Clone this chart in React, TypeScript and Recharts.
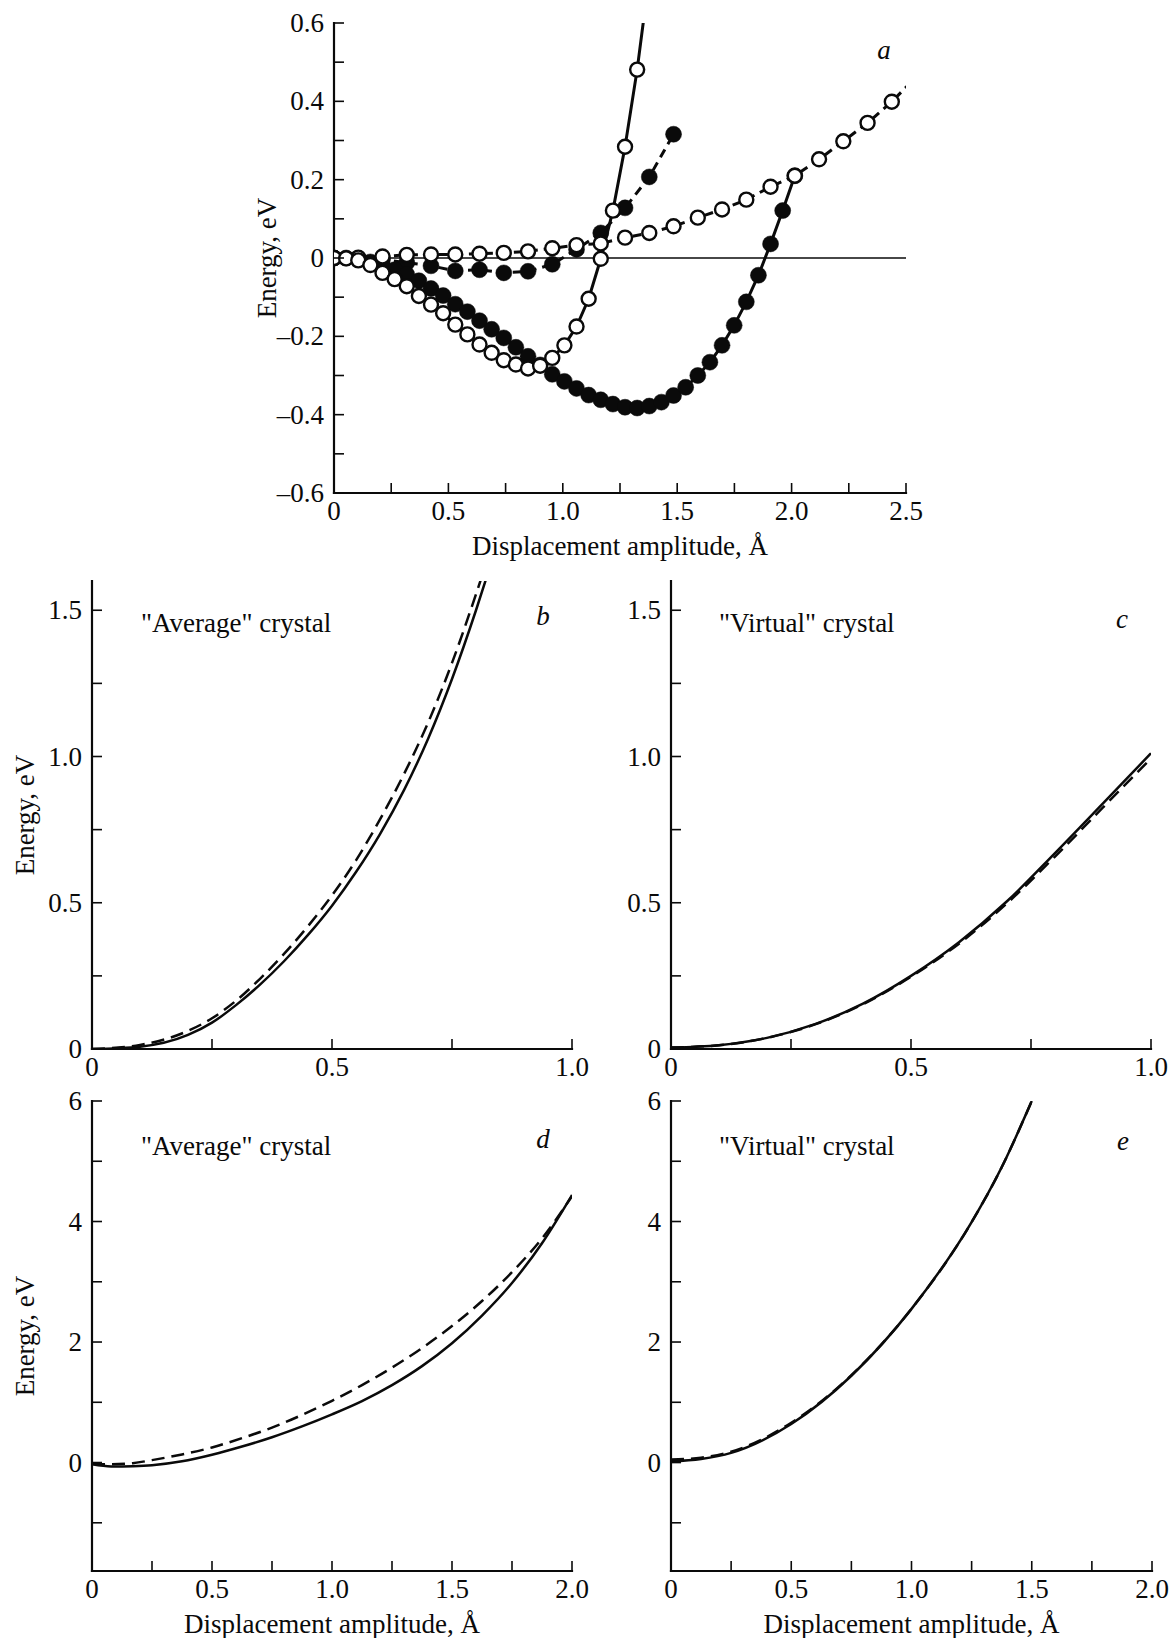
import React from "react";
import { LineChart, Line, XAxis, YAxis, ReferenceLine, Label } from "recharts";

// ---------------- DATA ----------------
// Panel a: fine-step points (open circles solid line, filled circles solid line)
const A_FINE_X = [0, 0.053, 0.106, 0.159, 0.212, 0.265, 0.318, 0.371, 0.424, 0.477, 0.53, 0.583, 0.636, 0.689, 0.742, 0.795, 0.848, 0.901, 0.954, 1.007, 1.06, 1.113, 1.166, 1.219, 1.272, 1.325, 1.378, 1.431, 1.484, 1.537, 1.59, 1.643, 1.696, 1.749, 1.802, 1.855, 1.908, 1.961, 2.014];
const A_OPEN_SOLID_Y = [0, -0.001, -0.006, -0.018, -0.038, -0.054, -0.072, -0.097, -0.119, -0.141, -0.17, -0.195, -0.221, -0.242, -0.261, -0.272, -0.282, -0.275, -0.255, -0.223, -0.175, -0.104, -0.002, 0.121, 0.284, 0.481, 0.72];
const A_FILLED_SOLID_Y = [0, 0, -0.002, -0.01, -0.02, -0.03, -0.042, -0.058, -0.078, -0.096, -0.118, -0.137, -0.16, -0.182, -0.204, -0.228, -0.251, -0.273, -0.297, -0.315, -0.333, -0.35, -0.362, -0.373, -0.381, -0.383, -0.378, -0.368, -0.351, -0.33, -0.3, -0.266, -0.223, -0.172, -0.112, -0.044, 0.036, 0.121, 0.21];
// Panel a: coarse-step points (dashed lines)
const A_COARSE_X = [0, 0.106, 0.212, 0.318, 0.424, 0.53, 0.636, 0.742, 0.848, 0.954, 1.06, 1.166, 1.272, 1.378, 1.484, 1.59, 1.696, 1.802, 1.908, 2.014, 2.12, 2.226, 2.332, 2.438, 2.544];
const A_OPEN_DASHED_Y = [0, 0.001, 0.004, 0.008, 0.009, 0.009, 0.011, 0.013, 0.017, 0.025, 0.033, 0.037, 0.052, 0.064, 0.081, 0.103, 0.124, 0.149, 0.182, 0.21, 0.252, 0.298, 0.345, 0.399, 0.462];
const A_FILLED_DASHED_Y = [0, -0.001, -0.004, -0.012, -0.02, -0.033, -0.03, -0.038, -0.034, -0.016, 0.022, 0.064, 0.128, 0.207, 0.316];

// Panel b ("Average" crystal, small range)
const B_X = [0, 0.1, 0.2, 0.25, 0.3, 0.35, 0.4, 0.45, 0.5, 0.55, 0.6, 0.65, 0.7, 0.75, 0.8, 0.83];
const B_SOLID = [0, 0.008, 0.048, 0.09, 0.15, 0.22, 0.3, 0.39, 0.49, 0.605, 0.735, 0.885, 1.06, 1.265, 1.5, 1.653];
const B_DASHED = [0, 0.014, 0.062, 0.105, 0.165, 0.24, 0.325, 0.42, 0.525, 0.645, 0.785, 0.94, 1.115, 1.32, 1.555, 1.705];

// Panel c ("Virtual" crystal, small range)
const C_X = [0, 0.1, 0.2, 0.3, 0.4, 0.5, 0.6, 0.7, 0.8, 0.9, 1.0];
const C_SOLID = [0.005, 0.013, 0.038, 0.085, 0.155, 0.25, 0.365, 0.505, 0.67, 0.84, 1.011];
const C_DASHED = [0.005, 0.013, 0.038, 0.084, 0.153, 0.247, 0.36, 0.498, 0.658, 0.826, 0.993];

// Panel d ("Average" crystal, large range)
const D_X = [0, 0.08, 0.17, 0.25, 0.375, 0.5, 0.625, 0.75, 0.875, 1.0, 1.125, 1.25, 1.375, 1.5, 1.625, 1.75, 1.875, 2.0];
const D_SOLID = [-0.03, -0.065, -0.06, -0.045, 0.02, 0.13, 0.265, 0.42, 0.6, 0.8, 1.02, 1.285, 1.6, 1.98, 2.44, 2.98, 3.64, 4.44];
const D_DASHED = [-0.02, -0.03, -0.01, 0.04, 0.135, 0.25, 0.405, 0.58, 0.79, 1.025, 1.285, 1.575, 1.9, 2.265, 2.68, 3.16, 3.72, 4.42];

// Panel e ("Virtual" crystal, large range)
const E_X = [0, 0.125, 0.25, 0.5, 0.75, 1.0, 1.25, 1.375, 1.5];
const E_SOLID = [0.02, 0.06, 0.16, 0.64, 1.44, 2.55, 3.99, 4.9, 6.0];
const E_DASHED = [0.05, 0.08, 0.18, 0.66, 1.45, 2.55, 3.99, 4.9, 6.0];

// Ticks and tick labels
const A_X_TICKS = [0, 0.25, 0.5, 0.75, 1, 1.25, 1.5, 1.75, 2, 2.25, 2.5];
const A_X_LAB_VALS = [0, 0.5, 1, 1.5, 2, 2.5];
const A_X_LABS = ["0", "0.5", "1.0", "1.5", "2.0", "2.5"];
const A_Y_TICKS = [-0.6, -0.5, -0.4, -0.3, -0.2, -0.1, 0, 0.1, 0.2, 0.3, 0.4, 0.5, 0.6];
const A_Y_LAB_VALS = [-0.6, -0.4, -0.2, 0, 0.2, 0.4, 0.6];
const A_Y_LABS = ["\u20130.6", "\u20130.4", "\u20130.2", "0", "0.2", "0.4", "0.6"];

const BC_X_TICKS = [0, 0.25, 0.5, 0.75, 1];
const BC_X_LAB_VALS = [0, 0.5, 1];
const BC_X_LABS = ["0", "0.5", "1.0"];
const BC_Y_TICKS = [0, 0.25, 0.5, 0.75, 1, 1.25, 1.5];
const BC_Y_LAB_VALS = [0, 0.5, 1, 1.5];
const BC_Y_LABS = ["0", "0.5", "1.0", "1.5"];

const DE_X_TICKS = [0, 0.25, 0.5, 0.75, 1, 1.25, 1.5, 1.75, 2];
const DE_X_LAB_VALS = [0, 0.5, 1, 1.5, 2];
const DE_X_LABS = ["0", "0.5", "1.0", "1.5", "2.0"];
const DE_Y_TICKS = [-1, 0, 1, 2, 3, 4, 5, 6];
const DE_Y_LAB_VALS = [0, 2, 4, 6];
const DE_Y_LABS = ["0", "2", "4", "6"];

const X_TITLE = "Displacement amplitude, \u00C5";
const Y_TITLE = "Energy, eV";

// ---------------- STYLE ----------------
const FONT = '"Liberation Serif", "Times New Roman", Times, serif';
const INK = "#0a0a0a";
const TICK_LEN = 10;
const TICK_FS = 27;
const TITLE_FS = 27;

const zip = (xs: number[], ys: number[]) => ys.map((y, i) => ({ x: xs[i], y }));

const findLabel = (v: number, vals: number[], labs: string[]) => {
  const i = vals.findIndex((t) => Math.abs(t - v) < 1e-6);
  return i >= 0 ? labs[i] : null;
};

const bottomTick = (vals: number[], labs: string[], dy: number) => (p: any) => {
  const { x, y, payload } = p;
  const lab = findLabel(payload.value, vals, labs);
  return (
    <g>
      <line x1={x} x2={x} y1={y} y2={y - TICK_LEN} stroke={INK} strokeWidth={1.6} />
      {lab !== null && (
        <text x={x} y={y + dy} textAnchor="middle" dominantBaseline="central" fontFamily={FONT} fontSize={TICK_FS} fill={INK}>
          {lab}
        </text>
      )}
    </g>
  );
};

const leftTick = (vals: number[], labs: string[], dx: number) => (p: any) => {
  const { x, y, payload } = p;
  const lab = findLabel(payload.value, vals, labs);
  return (
    <g>
      <line x1={x} x2={x + TICK_LEN} y1={y} y2={y} stroke={INK} strokeWidth={1.6} />
      {lab !== null && (
        <text x={x - dx} y={y} textAnchor="end" dominantBaseline="central" fontFamily={FONT} fontSize={TICK_FS} fill={INK}>
          {lab}
        </text>
      )}
    </g>
  );
};

const topTick = (p: any) => (
  <line x1={p.x} x2={p.x} y1={p.y} y2={p.y + TICK_LEN} stroke={INK} strokeWidth={1.6} />
);
const rightTick = (p: any) => (
  <line x1={p.x} x2={p.x - TICK_LEN} y1={p.y} y2={p.y} stroke={INK} strokeWidth={1.6} />
);

const xTitleContent = (dy: number) => (p: any) => {
  const vb = p.viewBox || {};
  return (
    <text x={vb.x + vb.width / 2} y={vb.y + dy} textAnchor="middle" dominantBaseline="central" fontFamily={FONT} fontSize={TITLE_FS} fill={INK}>
      {X_TITLE}
    </text>
  );
};

const yTitleContent = (dx: number) => (p: any) => {
  const vb = p.viewBox || {};
  const cx = vb.x + vb.width - dx;
  const cy = vb.y + vb.height / 2;
  return (
    <text x={cx} y={cy} transform={`rotate(-90 ${cx} ${cy})`} textAnchor="middle" dominantBaseline="central" fontFamily={FONT} fontSize={TITLE_FS} fill={INK}>
      {Y_TITLE}
    </text>
  );
};

type SeriesDef = {
  key: string;
  data: { x: number; y: number }[];
  width: number;
  dash?: string;
  marker?: "open" | "filled";
  curve: "linear" | "monotone";
};

type PanelProps = {
  left: number;
  top: number;
  width: number;
  height: number;
  margin: { top: number; right: number; bottom: number; left: number };
  yW: number;
  xH: number;
  xDomain: [number, number];
  yDomain: [number, number];
  xTicks: number[];
  yTicks: number[];
  xLabVals: number[];
  xLabs: string[];
  yLabVals: number[];
  yLabs: string[];
  series: SeriesDef[];
  showXTitle: boolean;
  showYTitle: boolean;
  zeroLine?: boolean;
};

const frame = { stroke: INK, strokeWidth: 2.2, strokeLinecap: "square" as const };

function Panel(pp: PanelProps) {
  return (
    <div style={{ position: "absolute", left: pp.left, top: pp.top }}>
      <LineChart width={pp.width} height={pp.height} margin={pp.margin}>
        <XAxis
          xAxisId="b"
          type="number"
          dataKey="x"
          domain={pp.xDomain}
          ticks={pp.xTicks}
          interval={0}
          allowDataOverflow
          tickLine={false}
          tickSize={0}
          tickMargin={0}
          height={pp.xH}
          axisLine={frame}
          tick={bottomTick(pp.xLabVals, pp.xLabs, 18)}
        >
          {pp.showXTitle && <Label content={xTitleContent(53)} />}
        </XAxis>
        <XAxis
          xAxisId="t"
          orientation="top"
          type="number"
          dataKey="x"
          domain={pp.xDomain}
          ticks={pp.xTicks}
          interval={0}
          allowDataOverflow
          tickLine={false}
          tickSize={0}
          tickMargin={0}
          height={0}
          axisLine={frame}
          tick={topTick}
        />
        <YAxis
          yAxisId="l"
          type="number"
          domain={pp.yDomain}
          ticks={pp.yTicks}
          interval={0}
          allowDataOverflow
          tickLine={false}
          tickSize={0}
          tickMargin={0}
          width={pp.yW}
          axisLine={frame}
          tick={leftTick(pp.yLabVals, pp.yLabs, 10)}
        >
          {pp.showYTitle && <Label content={yTitleContent(67)} />}
        </YAxis>
        <YAxis
          yAxisId="r"
          orientation="right"
          type="number"
          domain={pp.yDomain}
          ticks={pp.yTicks}
          interval={0}
          allowDataOverflow
          tickLine={false}
          tickSize={0}
          tickMargin={0}
          width={0}
          axisLine={frame}
          tick={rightTick}
        />
        {pp.zeroLine && <ReferenceLine xAxisId="b" yAxisId="l" y={0} stroke={INK} strokeWidth={1.4} />}
        {pp.series.map((s) => (
          <Line
            key={s.key}
            xAxisId="b"
            yAxisId="l"
            data={s.data}
            dataKey="y"
            type={s.curve}
            stroke={INK}
            strokeWidth={s.width}
            strokeDasharray={s.dash}
            isAnimationActive={false}
            activeDot={false}
            dot={
              s.marker === "open"
                ? { r: 7, fill: "#fff", stroke: INK, strokeWidth: 2.4, strokeDasharray: "none" }
                : s.marker === "filled"
                ? { r: 8, fill: INK, stroke: INK, strokeWidth: 0.5, strokeDasharray: "none" }
                : false
            }
          />
        ))}
      </LineChart>
    </div>
  );
}

const A_SERIES: SeriesDef[] = [
  { key: "filledDashed", data: zip(A_COARSE_X, A_FILLED_DASHED_Y), width: 3, dash: "9 6", marker: "filled", curve: "linear" },
  { key: "filledSolid", data: zip(A_FINE_X, A_FILLED_SOLID_Y), width: 3, marker: "filled", curve: "linear" },
  { key: "openDashed", data: zip(A_COARSE_X, A_OPEN_DASHED_Y), width: 3, dash: "9 6", marker: "open", curve: "linear" },
  { key: "openSolid", data: zip(A_FINE_X, A_OPEN_SOLID_Y), width: 3, marker: "open", curve: "linear" },
];

const curvePair = (xs: number[], solid: number[], dashed: number[]): SeriesDef[] => [
  { key: "dashed", data: zip(xs, dashed), width: 2.5, dash: "13 7", curve: "monotone" },
  { key: "solid", data: zip(xs, solid), width: 2.5, curve: "monotone" },
];

const textStyle = { fontFamily: FONT, fontSize: 27, fill: INK } as const;

export default function App() {
  return (
    <div style={{ position: "absolute", left: 0, top: 0, width: 1171, height: 1638, background: "#fff", overflow: "hidden" }}>
      <Panel
        left={240} top={0} width={704} height={563}
        margin={{ top: 23, right: 38, bottom: 0, left: 0 }}
        yW={94} xH={70}
        xDomain={[0, 2.5]} yDomain={[-0.6, 0.6]}
        xTicks={A_X_TICKS} yTicks={A_Y_TICKS}
        xLabVals={A_X_LAB_VALS} xLabs={A_X_LABS}
        yLabVals={A_Y_LAB_VALS} yLabs={A_Y_LABS}
        series={A_SERIES} showXTitle showYTitle zeroLine
      />
      <Panel
        left={0} top={566} width={600} height={523}
        margin={{ top: 15, right: 28, bottom: 0, left: 0 }}
        yW={92} xH={40}
        xDomain={[0, 1]} yDomain={[0, 1.6]}
        xTicks={BC_X_TICKS} yTicks={BC_Y_TICKS}
        xLabVals={BC_X_LAB_VALS} xLabs={BC_X_LABS}
        yLabVals={BC_Y_LAB_VALS} yLabs={BC_Y_LABS}
        series={curvePair(B_X, B_SOLID, B_DASHED)} showXTitle={false} showYTitle
      />
      <Panel
        left={579} top={566} width={592} height={523}
        margin={{ top: 15, right: 20, bottom: 0, left: 0 }}
        yW={92} xH={40}
        xDomain={[0, 1]} yDomain={[0, 1.6]}
        xTicks={BC_X_TICKS} yTicks={BC_Y_TICKS}
        xLabVals={BC_X_LAB_VALS} xLabs={BC_X_LABS}
        yLabVals={BC_Y_LAB_VALS} yLabs={BC_Y_LABS}
        series={curvePair(C_X, C_SOLID, C_DASHED)} showXTitle={false} showYTitle={false}
      />
      <Panel
        left={0} top={1086} width={600} height={552}
        margin={{ top: 15, right: 28, bottom: 0, left: 0 }}
        yW={92} xH={67}
        xDomain={[0, 2]} yDomain={[-1.8, 6]}
        xTicks={DE_X_TICKS} yTicks={DE_Y_TICKS}
        xLabVals={DE_X_LAB_VALS} xLabs={DE_X_LABS}
        yLabVals={DE_Y_LAB_VALS} yLabs={DE_Y_LABS}
        series={curvePair(D_X, D_SOLID, D_DASHED)} showXTitle showYTitle
      />
      <Panel
        left={579} top={1086} width={592} height={552}
        margin={{ top: 15, right: 19, bottom: 0, left: 0 }}
        yW={92} xH={67}
        xDomain={[0, 2]} yDomain={[-1.8, 6]}
        xTicks={DE_X_TICKS} yTicks={DE_Y_TICKS}
        xLabVals={DE_X_LAB_VALS} xLabs={DE_X_LABS}
        yLabVals={DE_Y_LAB_VALS} yLabs={DE_Y_LABS}
        series={curvePair(E_X, E_SOLID, E_DASHED)} showXTitle showYTitle={false}
      />
      <svg width={1171} height={1638} style={{ position: "absolute", left: 0, top: 0, pointerEvents: "none" }}>
        <text x={884} y={50} textAnchor="middle" dominantBaseline="central" fontStyle="italic" {...textStyle}>a</text>
        <text x={141} y={623} dominantBaseline="central" {...textStyle}>"Average" crystal</text>
        <text x={543} y={616} textAnchor="middle" dominantBaseline="central" fontStyle="italic" {...textStyle}>b</text>
        <text x={719} y={623} dominantBaseline="central" {...textStyle}>"Virtual" crystal</text>
        <text x={1122} y={619} textAnchor="middle" dominantBaseline="central" fontStyle="italic" {...textStyle}>c</text>
        <text x={141} y={1146} dominantBaseline="central" {...textStyle}>"Average" crystal</text>
        <text x={543} y={1139} textAnchor="middle" dominantBaseline="central" fontStyle="italic" {...textStyle}>d</text>
        <text x={719} y={1146} dominantBaseline="central" {...textStyle}>"Virtual" crystal</text>
        <text x={1123} y={1141} textAnchor="middle" dominantBaseline="central" fontStyle="italic" {...textStyle}>e</text>
      </svg>
    </div>
  );
}
